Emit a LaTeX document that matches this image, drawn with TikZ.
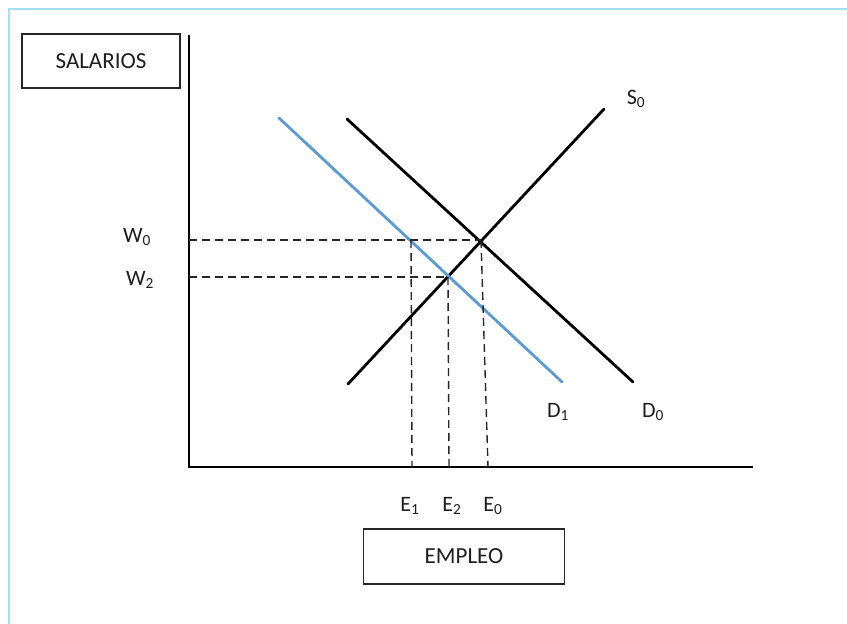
\documentclass[tikz,border=0pt]{standalone}
\usepackage{fontspec}
\setmainfont{Carlito}
\definecolor{frameblue}{RGB}{165,222,240}
\definecolor{curveblue}{RGB}{91,155,213}
\definecolor{txt}{RGB}{30,30,30}
\begin{document}
\begin{tikzpicture}[x=1pt,y=-1pt,
  lbl/.style={text=txt,font=\fontsize{22}{26}\selectfont,inner sep=0pt},
  boxed/.style={draw=black!85,line width=1.6pt,text=txt,font=\fontsize{23}{27}\selectfont,inner sep=0pt},
  axisline/.style={line width=2.8pt,black},
  curve/.style={line width=2.8pt,line cap=round},
  guide/.style={line width=1.4pt,dash pattern=on 8pt off 5pt,black!85}]
\useasboundingbox (0,0) rectangle (847,624);
\fill[white] (0,0) rectangle (847,624);
% frame
\draw[frameblue,line width=2pt] (9,626) -- (9,9) -- (849,9);
% boxes
\node[boxed,minimum width=158pt,minimum height=54pt] (salarios) at (101,61) {SALARIOS};
\node[boxed,minimum width=201pt,minimum height=55pt] (empleo) at (464,556.5) {EMPLEO};
% axes
\coordinate (origin) at (189,467);
\coordinate (ytop) at (189,35);
\coordinate (xend) at (753,467);
\draw[axisline] (ytop) -- (origin) -- (xend);
% curves
\coordinate (s0a) at (348,384);
\coordinate (s0b) at (604,109);
\coordinate (d0a) at (347,119);
\coordinate (d0b) at (633,382);
\coordinate (d1a) at (279,118);
\coordinate (d1b) at (562,382);
\draw[curve,black] (s0a) -- (s0b);
\draw[curve,black] (d0a) -- (d0b);
\draw[curve,curveblue] (d1a) -- (d1b);
% equilibrium points
\coordinate (p0) at (481,240);
\coordinate (p2) at (448,277);
\coordinate (p1) at (411,240);
\coordinate (w0) at (189,240);
\coordinate (w2) at (189,277);
\coordinate (e0) at (488,467);
\coordinate (e2) at (449,467);
\coordinate (e1) at (412,467);
\draw[guide] (w0) -- (p0);
\draw[guide] (w2) -- (p2);
\draw[guide] (p1) -- (e1);
\draw[guide] (p2) -- (e2);
\draw[guide] (p0) -- (e0);
% labels
\node[lbl] (ls0) at (636,99) {S\textsubscript{0}};
\node[lbl] (ld0) at (653,412) {D\textsubscript{0}};
\node[lbl] (ld1) at (558,412) {D\textsubscript{1}};
\node[lbl] (lw0) at (137,237) {W\textsubscript{0}};
\node[lbl] (lw2) at (140,280) {W\textsubscript{2}};
\node[lbl] (le1) at (410,506) {E\textsubscript{1}};
\node[lbl] (le2) at (452,506) {E\textsubscript{2}};
\node[lbl] (le0) at (493,506) {E\textsubscript{0}};
\end{tikzpicture}
\end{document}
